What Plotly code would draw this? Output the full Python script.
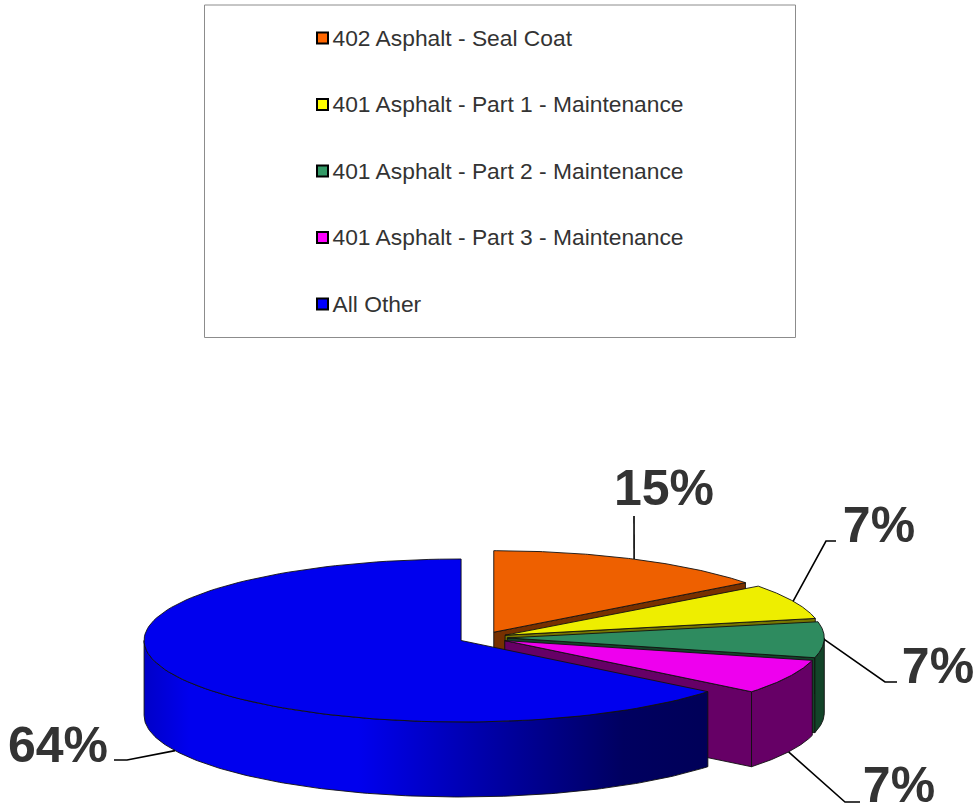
import numpy as np
import plotly.graph_objects as go

categories = ["402 Asphalt - Seal Coat", "401 Asphalt - Part 1 - Maintenance",
              "401 Asphalt - Part 2 - Maintenance", "401 Asphalt - Part 3 - Maintenance", "All Other"]
values = [14.6, 7.1, 7.2, 6.9, 64.2]
legend_colors = ["#FF6600", "#FFFF00", "#339966", "#FF00FF", "#0000FF"]
top_colors = ["#EE6000", "#EEEE00", "#2E8B5F", "#EE00EE", "#0000EE"]
wall_colors = ["#773000", "#777700", "#134429", "#660066", "#000066"]

# Projection of the tilted pie into the pixel-based plot area
W, H = 977, 806
CX, CY, RX, RY, DEPTH, EXPLODE = 483, 637.8, 317, 81.5, 75, 24.3
EDGE = "#111111"
LEGEND_YS = [38, 104.5, 171, 237.5, 304]
LEGEND_TEXT_YS = [40, 106.5, 173, 239.5, 306]
LABEL_POS = [(664, 492), (879, 529), (938, 670), (899, 789), (58, 749)]
LEADER_ELBOWS = [[(634, 516)], [(826, 541), (836, 541)], [(885, 682), (897, 682)],
                 [(845, 802), (860, 802)], [(127, 760), (114, 760)]]
TEXT = "#333333"

fig = go.Figure()


def poly(xs, ys, fill, line=EDGE, width=0.9, **kw):
    fig.add_trace(go.Scatter(x=list(xs), y=list(ys), mode="lines", fill="toself", fillcolor=fill,
                             line=dict(color=line, width=width), hoverinfo="skip", showlegend=False, **kw))


total = sum(values)
edges = np.concatenate([[0], np.cumsum(values)]) / total * 2 * np.pi
for i, name in enumerate(categories):
    a0, a1 = edges[i], edges[i + 1]
    mid = (a0 + a1) / 2
    cx = CX + EXPLODE * np.sin(mid)
    cy = CY - EXPLODE * RY / RX * np.cos(mid)
    px = lambda t: cx + RX * np.sin(t)
    py = lambda t, z=0: cy - RY * np.cos(t) + z
    arc = np.linspace(a0, a1, 120)

    # radial wall at the clockwise edge (hidden for the large slice, which faces away)
    if np.sin(a1) > 0:
        poly([cx, px(a1), px(a1), cx, cx], [cy, py(a1), py(a1, DEPTH), cy + DEPTH, cy], wall_colors[i])

    # curved outer wall where the rim faces the viewer
    lo, hi = max(a0, np.pi / 2), min(a1, 3 * np.pi / 2)
    if hi > lo:
        t = np.linspace(lo, hi, 160)
        xs = np.concatenate([px(t), px(t[::-1]), [px(t[0])]])
        ys = np.concatenate([py(t), py(t[::-1], DEPTH), [py(t[0])]])
        if i == len(categories) - 1:
            fig.add_trace(go.Scatter(
                x=xs, y=ys, mode="lines", fill="toself", hoverinfo="skip", showlegend=False,
                line=dict(color=EDGE, width=0.9),
                fillgradient=dict(type="horizontal", colorscale=[
                    [0, "#0000C8"], [0.08, "#0000EE"], [0.38, "#0000EE"], [0.62, "#0000A4"],
                    [0.85, "#000060"], [1, "#000058"]]),
            ))
        else:
            poly(xs, ys, wall_colors[i])

    # top face
    poly(np.concatenate([[cx], px(arc), [cx]]), np.concatenate([[cy], py(arc), [cy]]), top_colors[i])

# leader lines run from each slice's rim at its mid-angle
for i in range(len(values)):
    a0, a1 = edges[i], edges[i + 1]
    mid = (a0 + a1) / 2
    cx = CX + EXPLODE * np.sin(mid)
    cy = CY - EXPLODE * RY / RX * np.cos(mid)
    z = DEPTH if np.cos(mid) < -0.2 else 0
    ax, ay = cx + RX * np.sin(mid), cy - RY * np.cos(mid) + z
    fig.add_trace(go.Scatter(x=[ax] + [p[0] for p in LEADER_ELBOWS[i]], y=[ay] + [p[1] for p in LEADER_ELBOWS[i]],
                             mode="lines", line=dict(color="#000000", width=1.6),
                             hoverinfo="skip", showlegend=False))

# percentage labels
fig.add_trace(go.Scatter(
    x=[p[0] for p in LABEL_POS], y=[p[1] for p in LABEL_POS], mode="text",
    text=[f"{round(v / total * 100)}%" for v in values],
    textposition="middle center",
    textfont=dict(family="Liberation Sans", size=50, color=TEXT, weight="bold"),
    hoverinfo="skip", showlegend=False, cliponaxis=False))

# legend frame and entries
fig.add_shape(type="rect", x0=204.5, x1=795.5, y0=5, y1=337.5, line=dict(color="#8c8c8c", width=1),
              fillcolor="rgba(0,0,0,0)", layer="below")
fig.add_trace(go.Scatter(
    x=[322.5] * len(categories), y=LEGEND_YS, mode="markers",
    marker=dict(symbol="square", size=11, color=legend_colors, line=dict(color="#000000", width=2)),
    hoverinfo="skip", showlegend=False))
fig.add_trace(go.Scatter(
    x=[332.5] * len(categories), y=LEGEND_TEXT_YS, mode="text", text=categories, textposition="middle right",
    textfont=dict(family="Liberation Sans", size=22.8, color=TEXT),
    hoverinfo="skip", showlegend=False))

fig.update_layout(
    width=W, height=H, autosize=False, margin=dict(l=0, r=0, t=0, b=0),
    paper_bgcolor="white", plot_bgcolor="white", showlegend=False,
    xaxis=dict(range=[0, W], visible=False, fixedrange=True),
    yaxis=dict(range=[H, 0], visible=False, fixedrange=True),
)
fig.write_html("out.html", config={"displayModeBar": False},
               post_script="document.body.style.margin='0';document.documentElement.style.overflow='hidden';")
